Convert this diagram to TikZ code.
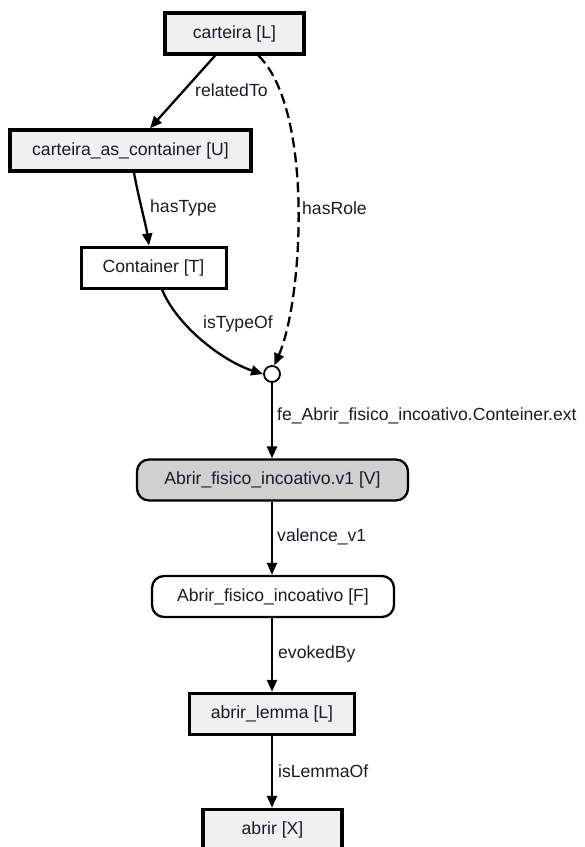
\documentclass[tikz,border=0pt]{standalone}
\usepackage{fontspec}
\setmainfont{Liberation Sans}
\usetikzlibrary{arrows.meta}
\definecolor{boxgray}{HTML}{F0F0F0}
\definecolor{valgray}{HTML}{D0D0D0}
\definecolor{txt}{HTML}{1A1A2A}
\begin{document}
\begin{tikzpicture}[x=1pt,y=-1pt,
  font=\fontsize{17.6}{20}\selectfont,
  every node/.style={text=txt},
  sqbox/.style={draw, line width=3.4pt, fill=boxgray, minimum height=41pt, inner sep=0pt},
  plainbox/.style={draw, line width=3pt, fill=white, minimum height=41pt, inner sep=0pt},
  rbox/.style={draw, line width=2.3pt, rounded corners=12pt, minimum height=41pt, inner sep=0pt},
  joint/.style={draw, line width=1.8pt, circle, fill=white, minimum size=16pt, inner sep=0pt},
  rel/.style={line width=2.3pt, -{Triangle[length=12pt,width=10pt]}},
  lbl/.style={anchor=west, inner sep=0pt}]
\useasboundingbox (0,0) rectangle (585,847);
\clip (0,0) rectangle (585,847);

% nodes
\node[sqbox, minimum width=139pt] (carteira) at (234.5,33.5) {carteira [L]};
\node[sqbox, minimum width=241pt] (cac) at (130.5,150.5) {carteira\_as\_container [U]};
\node[plainbox, minimum width=145pt] (cont) at (153.5,267.5) {Container [T]};
\node[joint] (circ) at (272,374) {};
\node[rbox, fill=valgray, minimum width=271pt] (val) at (272.5,480) {Abrir\_fisico\_incoativo.v1 [V]};
\node[rbox, fill=white, minimum width=242pt] (frame) at (273,596.5) {Abrir\_fisico\_incoativo [F]};
\node[sqbox, minimum width=165pt] (lemma) at (272,714) {abrir\_lemma [L]};
\node[sqbox, minimum width=139pt] (word) at (272.5,830) {abrir [X]};

% connectors
\draw[rel] ([xshift=-19.5pt]carteira.south) -- ([xshift=19.5pt]cac.north);
\draw[rel] ([xshift=3.5pt]cac.south) .. controls (139,200) and (146,225) .. ([xshift=-4.5pt]cont.north);
\draw[rel, dash pattern=on 10pt off 5pt] ([xshift=24pt]carteira.south)
  .. controls (314,110) and (303,300) .. (circ.75);
\draw[rel] ([xshift=8.5pt]cont.south) .. controls (178,328) and (225,362) .. (circ.west);
\draw[rel] (circ.south) -- (val.north -| circ);
\draw[rel] (val.south -| circ) -- (frame.north -| circ);
\draw[rel] (frame.south -| circ) -- (lemma.north -| circ);
\draw[rel] (lemma.south -| circ) -- (word.north -| circ);

% connector labels
\node[lbl] (l1) at (195,90) {relatedTo};
\node[lbl] (l2) at (150,208) {hasType};
\node[lbl] (l3) at (302,208) {hasRole};
\node[lbl] (l4) at (203,324) {isTypeOf};
\node[lbl] (l5) at (277,416) {fe\_Abrir\_fisico\_incoativo.Conteiner.ext};
\node[lbl] (l6) at (277,537) {valence\_v1};
\node[lbl] (l7) at (278,654) {evokedBy};
\node[lbl] (l8) at (278,771) {isLemmaOf};
\end{tikzpicture}
\end{document}
